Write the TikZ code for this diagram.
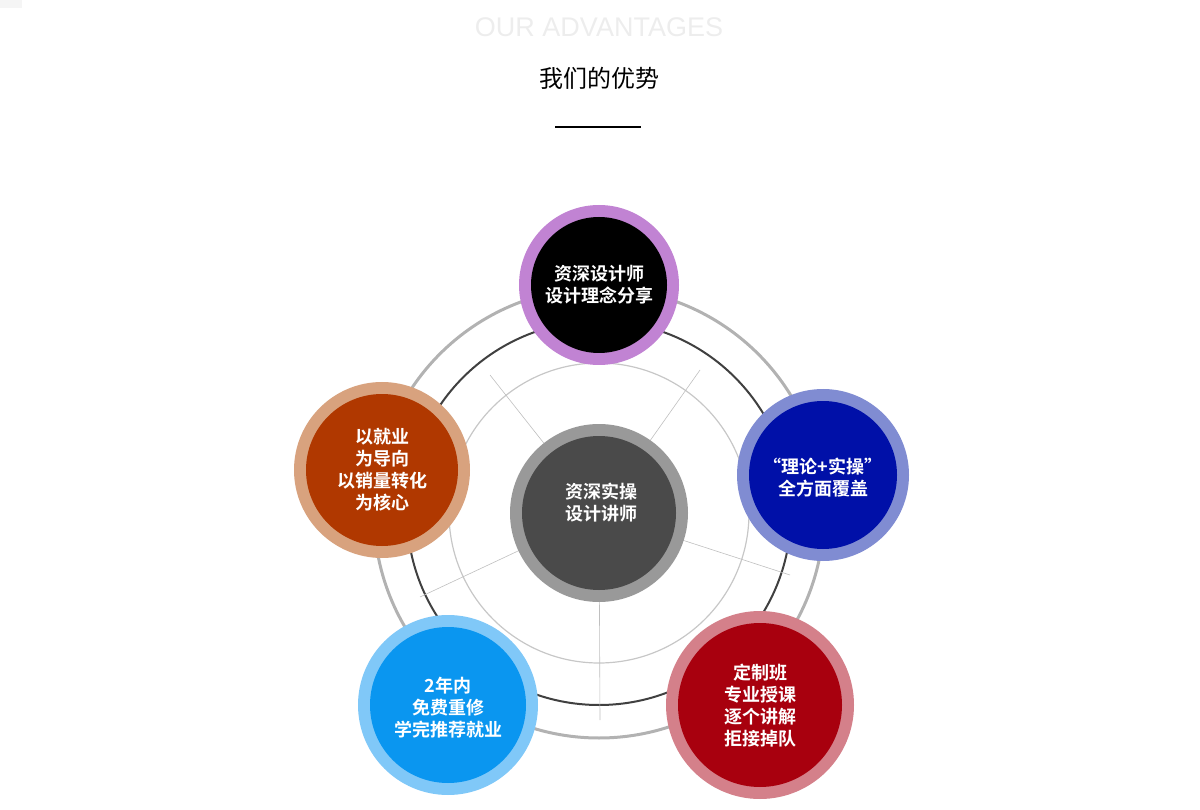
\documentclass[tikz,border=0pt]{standalone}
\usepackage{fontspec}
\setmainfont{Noto Sans CJK SC}
\newfontfamily\cjkb{Noto Sans CJK SC Bold}
\newfontfamily\latin{Liberation Sans}
\definecolor{pin}{HTML}{A8007E}\definecolor{pout}{HTML}{C183D3}
\definecolor{bin}{HTML}{0010A8}\definecolor{bout}{HTML}{808CD2}
\definecolor{rin}{HTML}{A8000E}\definecolor{rout}{HTML}{D4808A}
\definecolor{lin}{HTML}{0A96F0}\definecolor{lout}{HTML}{80C8F8}
\definecolor{oin}{HTML}{B03800}\definecolor{oout}{HTML}{D8A27E}
\definecolor{cin}{HTML}{4A4A4A}\definecolor{cout}{HTML}{999999}
\tikzset{lbl/.style={text=white,align=center,font=\cjkb\fontsize{18}{22}\selectfont},
spoke/.style={draw=black!25,line width=0.6pt}}
\begin{document}
\begin{tikzpicture}[x=1pt,y=-1pt]
\useasboundingbox (0,0) rectangle (1200,810);
\fill[black!4] (0,0) rectangle (22,8);
\node (en) at (599,27) {\latin\fontsize{27}{30}\selectfont\color{black!7}OUR ADVANTAGES};
\node (ti) at (599,78) {\fontsize{24}{28}\selectfont 我们的优势};
\draw[line width=1.5pt] (555,127) -- (641,127);
\coordinate (c) at (599,513);
\draw[black!30,line width=3pt] (c) circle (225);
\draw[black!75,line width=2pt] (c) circle (192);
\draw[black!22,line width=1.2pt] (c) circle (150);
\foreach \p in {(700,370),(790,575),(600,720),(420,597),(490,375)}
  \draw[spoke] (c) -- \p;
\foreach \x/\y/\r/\i/\o/\n in {599/285/80/pin/pout/t,823/475/86/bin/bout/r,760/705/94/rin/rout/br,448/705/90/lin/lout/bl,382/470/88/oin/oout/l,599/513/89/cin/cout/cc}{
  \fill[\o] (\x,\y) circle (\r);
  \fill[\i] (\x,\y) circle (\r-12);
}
\node[lbl] (nt) at (599,285) {资深设计师\\设计理念分享};
\node[lbl] (nr) at (823,478) {“理论+实操”\\全方面覆盖};
\node[lbl] (nbr) at (760,706) {定制班\\专业授课\\逐个讲解\\拒接掉队};
\node[lbl] (nbl) at (448,708) {2年内\\免费重修\\学完推荐就业};
\node[lbl] (nl) at (382,470) {以就业\\为导向\\以销量转化\\为核心};
\node[lbl] (nc) at (601,503) {资深实操\\设计讲师};
\end{tikzpicture}
\end{document}
